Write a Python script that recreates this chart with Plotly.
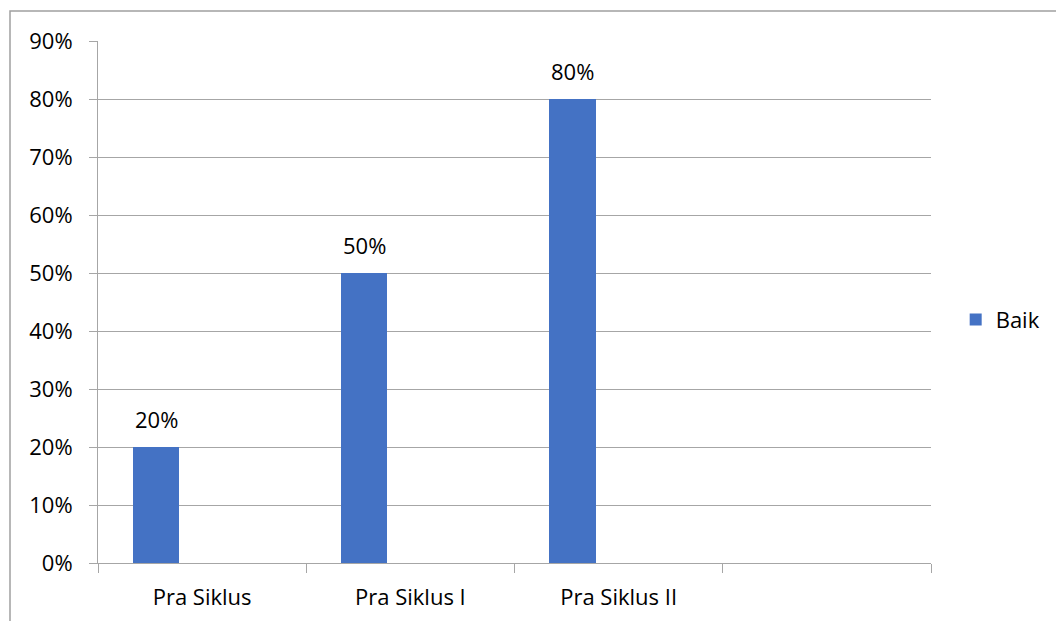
import plotly.graph_objects as go

categories = ["Pra Siklus", "Pra Siklus I", "Pra Siklus II", " "]
values = [0.20, 0.50, 0.80, None]
labels = ["20%", "50%", "80%", ""]
series_name = "Baik"
y_ticks = [0, 0.1, 0.2, 0.3, 0.4, 0.5, 0.6, 0.7, 0.8, 0.9]

BAR = "#4472C4"
GRID = "#A6A6A6"
FONT = "Open Sans"
FS = 22

fig = go.Figure()
fig.add_trace(go.Bar(
    x=categories, y=values, name=series_name,
    marker=dict(color=BAR, line=dict(width=0)),
    offset=-0.332, width=0.222,
    showlegend=True,
))

for c, v, t in zip(categories, values, labels):
    if v is None:
        continue
    fig.add_annotation(
        x=c, y=v, text=t, showarrow=False, xanchor="center", yanchor="bottom",
        xshift=-0.221 * 208.3, yshift=11,
        font=dict(family=FONT, size=FS, color="#000000"),
    )

fig.update_layout(
    width=1056, height=621,
    margin=dict(l=98, r=125, t=41, b=58, autoexpand=False),
    paper_bgcolor="white", plot_bgcolor="white",
    font=dict(family=FONT, size=FS, color="#000000"),
    showlegend=True,
    legend=dict(xref="container", yref="container", x=0.905, y=0.485,
                xanchor="left", yanchor="middle",
                itemwidth=30, font=dict(family=FONT, size=FS),
                bgcolor="rgba(0,0,0,0)"),
    bargap=0,
)
fig.update_xaxes(
    type="category", categoryorder="array", categoryarray=categories,
    range=[-0.5, 3.5], tickson="boundaries", ticks="outside", ticklen=9,
    tickcolor=GRID, tickwidth=1, showline=True, linecolor=GRID, linewidth=1,
    showgrid=False, tickfont=dict(family=FONT, size=FS), ticklabelstandoff=15,
    automargin=False,
)
fig.update_yaxes(
    range=[0, 0.9], tickvals=y_ticks, tickformat=".0%", ticks="outside",
    ticklen=8, tickcolor=GRID, showline=True, linecolor=GRID, linewidth=1,
    showgrid=True, gridcolor=GRID, gridwidth=1, zeroline=False,
    tickfont=dict(family=FONT, size=FS), ticklabelstandoff=12,
    automargin=False,
)
fig.add_shape(type="rect", xref="paper", yref="paper",
              x0=(10 - 98) / 833, x1=1.5, y0=-0.5, y1=(563 - 11) / 522,
              line=dict(color="#A0A0A0", width=1.5), fillcolor="rgba(0,0,0,0)",
              layer="below")

fig.write_html("out.html")
